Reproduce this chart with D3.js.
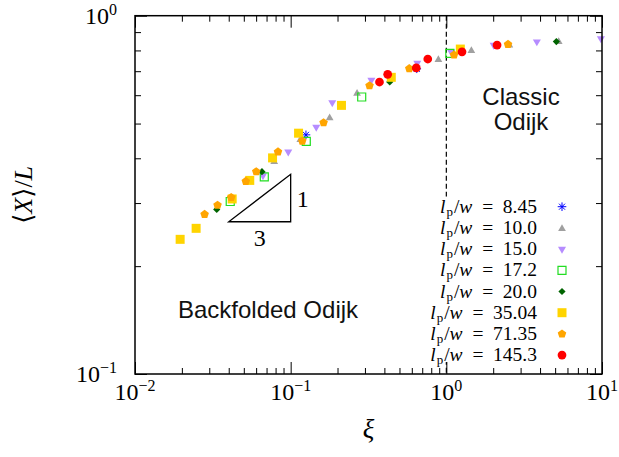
<!DOCTYPE html>
<html>
<head>
<meta charset="utf-8">
<script src="https://cdn.jsdelivr.net/npm/d3@7"></script>
<style>
  body { margin: 0; background: #fff; }
  svg { display: block; }
  .serif { font-family: "Liberation Serif", "DejaVu Serif", serif; fill: #000; }
  .sans { font-family: "Liberation Sans", Arial, sans-serif; fill: #111; }
</style>
</head>
<body>
<div id="chart"></div>
<script>
// [xi, <X>/L] pairs
const lp845 = [[0.1254, 0.465], [0.646, 0.711]];
const lp100 = [[0.0784, 0.393], [0.1153, 0.453], [0.178, 0.521], [0.267, 0.61], [0.889, 0.757], [1.448, 0.802], [2.54, 0.831], [5.27, 0.85]];
const lp150 = [[0.0664, 0.358], [0.0965, 0.417], [0.146, 0.489], [0.185, 0.572], [0.33, 0.661], [0.651, 0.738], [1.072, 0.793], [2.014, 0.828], [3.815, 0.846], [9.84, 0.863]];
const lp172 = [[0.0409, 0.303], [0.0677, 0.355], [0.126, 0.446], [0.286, 0.593], [1.053, 0.785]];
const lp200 = [[0.0335, 0.288], [0.0654, 0.367], [0.433, 0.653], [5.09, 0.847]];
const lp3504 = [[0.0195, 0.2376], [0.0247, 0.255], [0.0421, 0.308], [0.0546, 0.347], [0.0765, 0.401], [0.1124, 0.47], [0.212, 0.562], [0.443, 0.673], [1.23, 0.807]];
const lp7135 = [[0.028, 0.279], [0.0339, 0.296], [0.0415, 0.311], [0.0515, 0.345], [0.0601, 0.367], [0.0829, 0.417], [0.1187, 0.447], [0.1627, 0.503], [0.321, 0.638], [0.578, 0.712], [1.121, 0.777], [2.49, 0.832]];
const lp1453 = [[0.372, 0.653], [0.42, 0.686], [0.641, 0.715], [0.76, 0.757], [1.261, 0.793], [2.118, 0.828]];

const seriesData = [lp845, lp100, lp150, lp172, lp200, lp3504, lp7135, lp1453];
const seriesLabels = ["8.45", "10.0", "15.0", "17.2", "20.0", "35.04", "71.35", "145.3"];
const seriesSymbols = ["asterisk", "triangleUp", "triangleDown", "openSquare", "diamond", "square", "pentagon", "circle"];
const seriesColors = ["#0000ff", "#a0a0a0", "#b68cff", "#22dd22", "#006400", "#ffd400", "#ffa500", "#ff0000"];

const xTickMajor = [0.01, 0.1, 1, 10];
const xTickLabels = ["\u22122", "\u22121", "0", "1"];
const yTickMajor = [0.1, 1];
const yTickLabels = ["\u22121", "0"];

const width = 619;
const height = 457;
const margin = { top: 15.7, right: 17, bottom: 83, left: 135 };

const svg = d3.select("#chart").append("svg")
  .attr("width", width)
  .attr("height", height);

const x = d3.scaleLog().domain([0.01, 10]).range([margin.left, width - margin.right]);
const y = d3.scaleLog().domain([0.1, 1]).range([height - margin.bottom, margin.top]);

const xMinor = [];
[0.01, 0.1, 1].forEach(d => { for (let k = 2; k <= 9; k++) xMinor.push(k * d); });
const yMinor = [];
for (let k = 2; k <= 9; k++) yMinor.push(k * 0.1);

// marker paths
function markerPath(type) {
  if (type === "triangleUp") return d3.symbol().type(d3.symbolTriangle).size(26)();
  if (type === "triangleDown") return d3.symbol().type(d3.symbolTriangle).size(28)();
  if (type === "square") return "M-4.5,-4.5H4.5V4.5H-4.5Z";
  if (type === "openSquare") return "M-4,-4H4V4H-4Z";
  if (type === "diamond") return "M0,-3.6L3.6,0L0,3.6L-3.6,0Z";
  if (type === "circle") return d3.symbol().type(d3.symbolCircle).size(60)();
  if (type === "pentagon") {
    const pts = d3.range(5).map(i => {
      const a = -Math.PI / 2 + i * 2 * Math.PI / 5;
      return [4.5 * Math.cos(a), 4.5 * Math.sin(a)];
    });
    return "M" + pts.join("L") + "Z";
  }
  if (type === "asterisk") return "M0,-4.3V4.3M-4.3,0H4.3M-3,-3L3,3M-3,3L3,-3";
}

function drawMarker(g, type, color) {
  const p = g.append("path").attr("d", markerPath(type));
  if (type === "openSquare") {
    p.attr("fill", "none").attr("stroke", color).attr("stroke-width", 1.2);
  } else if (type === "asterisk") {
    p.attr("fill", "none").attr("stroke", color).attr("stroke-width", 1);
  } else {
    p.attr("fill", color);
  }
  if (type === "triangleDown") p.attr("transform", "rotate(180)");
  if (type === "triangleUp") p.attr("transform", "translate(0,0.8)");
}

// dashed line at xi = 1
svg.append("line")
  .attr("x1", x(1)).attr("x2", x(1))
  .attr("y1", y(1)).attr("y2", y(0.1))
  .attr("stroke", "#000")
  .attr("stroke-width", 1.2)
  .attr("stroke-dasharray", "5,3");

// slope triangle
const triX0 = 0.04, triX1 = 0.1, triY0 = 0.266;
const triY1 = triY0 * Math.pow(triX1 / triX0, 1 / 3);
svg.append("path")
  .attr("d", `M${x(triX0)},${y(triY0)}L${x(triX1)},${y(triY0)}L${x(triX1)},${y(triY1)}Z`)
  .attr("fill", "none")
  .attr("stroke", "#000")
  .attr("stroke-width", 1.3);
svg.append("text").attr("class", "serif")
  .attr("x", x(Math.sqrt(triX0 * triX1)))
  .attr("y", y(triY0) + 24)
  .attr("text-anchor", "middle")
  .attr("font-size", 24)
  .text("3");
svg.append("text").attr("class", "serif")
  .attr("x", x(triX1) + 12)
  .attr("y", y(Math.sqrt(triY0 * triY1)) + 9)
  .attr("text-anchor", "middle")
  .attr("font-size", 24)
  .text("1");

// data points
const points = svg.append("g").attr("class", "points");
seriesData.forEach((data, i) => {
  points.selectAll(".s" + i)
    .data(data)
    .enter()
    .append("g")
    .attr("class", "s" + i)
    .attr("transform", d => `translate(${x(d[0])},${y(d[1])})`)
    .each(function () { drawMarker(d3.select(this), seriesSymbols[i], seriesColors[i]); });
});

// legend
const legendY0 = 206.7;
const legendStep = 21.2;
const legendTextX = 537;
const legendMarkX = 562;
svg.append("rect")
  .attr("x", 408)
  .attr("y", legendY0 - 10)
  .attr("width", 168)
  .attr("height", legendStep * 7 + 17)
  .attr("fill", "#fff");

seriesLabels.forEach((lab, i) => {
  const ly = legendY0 + i * legendStep;
  const t = svg.append("text").attr("class", "serif")
    .attr("x", legendTextX)
    .attr("y", ly + 6)
    .attr("text-anchor", "end")
    .attr("font-size", 19.5);
  t.append("tspan").attr("font-style", "italic").text("l");
  t.append("tspan").attr("font-size", 13).attr("dy", 3).attr("dx", 1).text("p");
  t.append("tspan").attr("dy", -3).attr("dx", 1).text("/");
  t.append("tspan").attr("font-style", "italic").text("w");
  t.append("tspan").text("\u2002=\u2002" + lab);
  const g = svg.append("g").attr("transform", `translate(${legendMarkX},${ly})`);
  drawMarker(g, seriesSymbols[i], seriesColors[i]);
});

// region annotations
svg.append("text").attr("class", "sans")
  .attr("x", 521).attr("y", 105)
  .attr("text-anchor", "middle")
  .attr("font-size", 24)
  .text("Classic");
svg.append("text").attr("class", "sans")
  .attr("x", 521).attr("y", 130)
  .attr("text-anchor", "middle")
  .attr("font-size", 24)
  .text("Odijk");
svg.append("text").attr("class", "sans")
  .attr("x", 268).attr("y", 318)
  .attr("text-anchor", "middle")
  .attr("font-size", 24)
  .text("Backfolded Odijk");

// axes with inward ticks
function tickAxis(axisFn, scale, values, size, transform) {
  const g = svg.append("g")
    .attr("transform", transform)
    .call(axisFn(scale).tickValues(values).tickSize(-size).tickFormat(""));
  g.select(".domain").remove();
  g.selectAll("line").attr("stroke", "#000").attr("stroke-width", 1);
}
const x0 = x.range()[0], x1 = x.range()[1];
const yb = y.range()[0], yt = y.range()[1];
tickAxis(d3.axisBottom, x, xTickMajor, 12, `translate(0,${yb})`);
tickAxis(d3.axisBottom, x, xMinor, 6, `translate(0,${yb})`);
tickAxis(d3.axisTop, x, xTickMajor, 12, `translate(0,${yt})`);
tickAxis(d3.axisTop, x, xMinor, 6, `translate(0,${yt})`);
tickAxis(d3.axisLeft, y, yTickMajor, 12, `translate(${x0},0)`);
tickAxis(d3.axisLeft, y, yMinor, 6, `translate(${x0},0)`);
tickAxis(d3.axisRight, y, yTickMajor, 12, `translate(${x1},0)`);
tickAxis(d3.axisRight, y, yMinor, 6, `translate(${x1},0)`);

svg.append("rect")
  .attr("x", x0).attr("y", yt)
  .attr("width", x1 - x0).attr("height", yb - yt)
  .attr("fill", "none")
  .attr("stroke", "#000")
  .attr("stroke-width", 1.5);

// tick labels
xTickMajor.forEach((v, i) => {
  const t = svg.append("text").attr("class", "serif")
    .attr("x", x(v))
    .attr("y", yb + 26)
    .attr("text-anchor", "middle")
    .attr("font-size", 24);
  t.append("tspan").text("10");
  t.append("tspan").attr("font-size", 16).attr("dy", -9).text(xTickLabels[i]);
});
yTickMajor.forEach((v, i) => {
  const t = svg.append("text").attr("class", "serif")
    .attr("x", x0 - 18)
    .attr("y", y(v) + 8)
    .attr("text-anchor", "end")
    .attr("font-size", 24);
  t.append("tspan").text("10");
  t.append("tspan").attr("font-size", 16).attr("dy", -9).text(yTickLabels[i]);
});

// axis titles
svg.append("text").attr("class", "serif")
  .attr("x", (x0 + x1) / 2)
  .attr("y", 438)
  .attr("text-anchor", "middle")
  .attr("font-size", 27)
  .attr("font-style", "italic")
  .text("\u03be");

const yLab = svg.append("text").attr("class", "serif")
  .attr("transform", `translate(32,${(yt + yb) / 2}) rotate(-90)`)
  .attr("text-anchor", "middle")
  .attr("font-size", 26);
yLab.append("tspan").text("\u27e8");
yLab.append("tspan").attr("font-style", "italic").text("X");
yLab.append("tspan").text("\u27e9/");
yLab.append("tspan").attr("font-style", "italic").text("L");
</script>
</body>
</html>
